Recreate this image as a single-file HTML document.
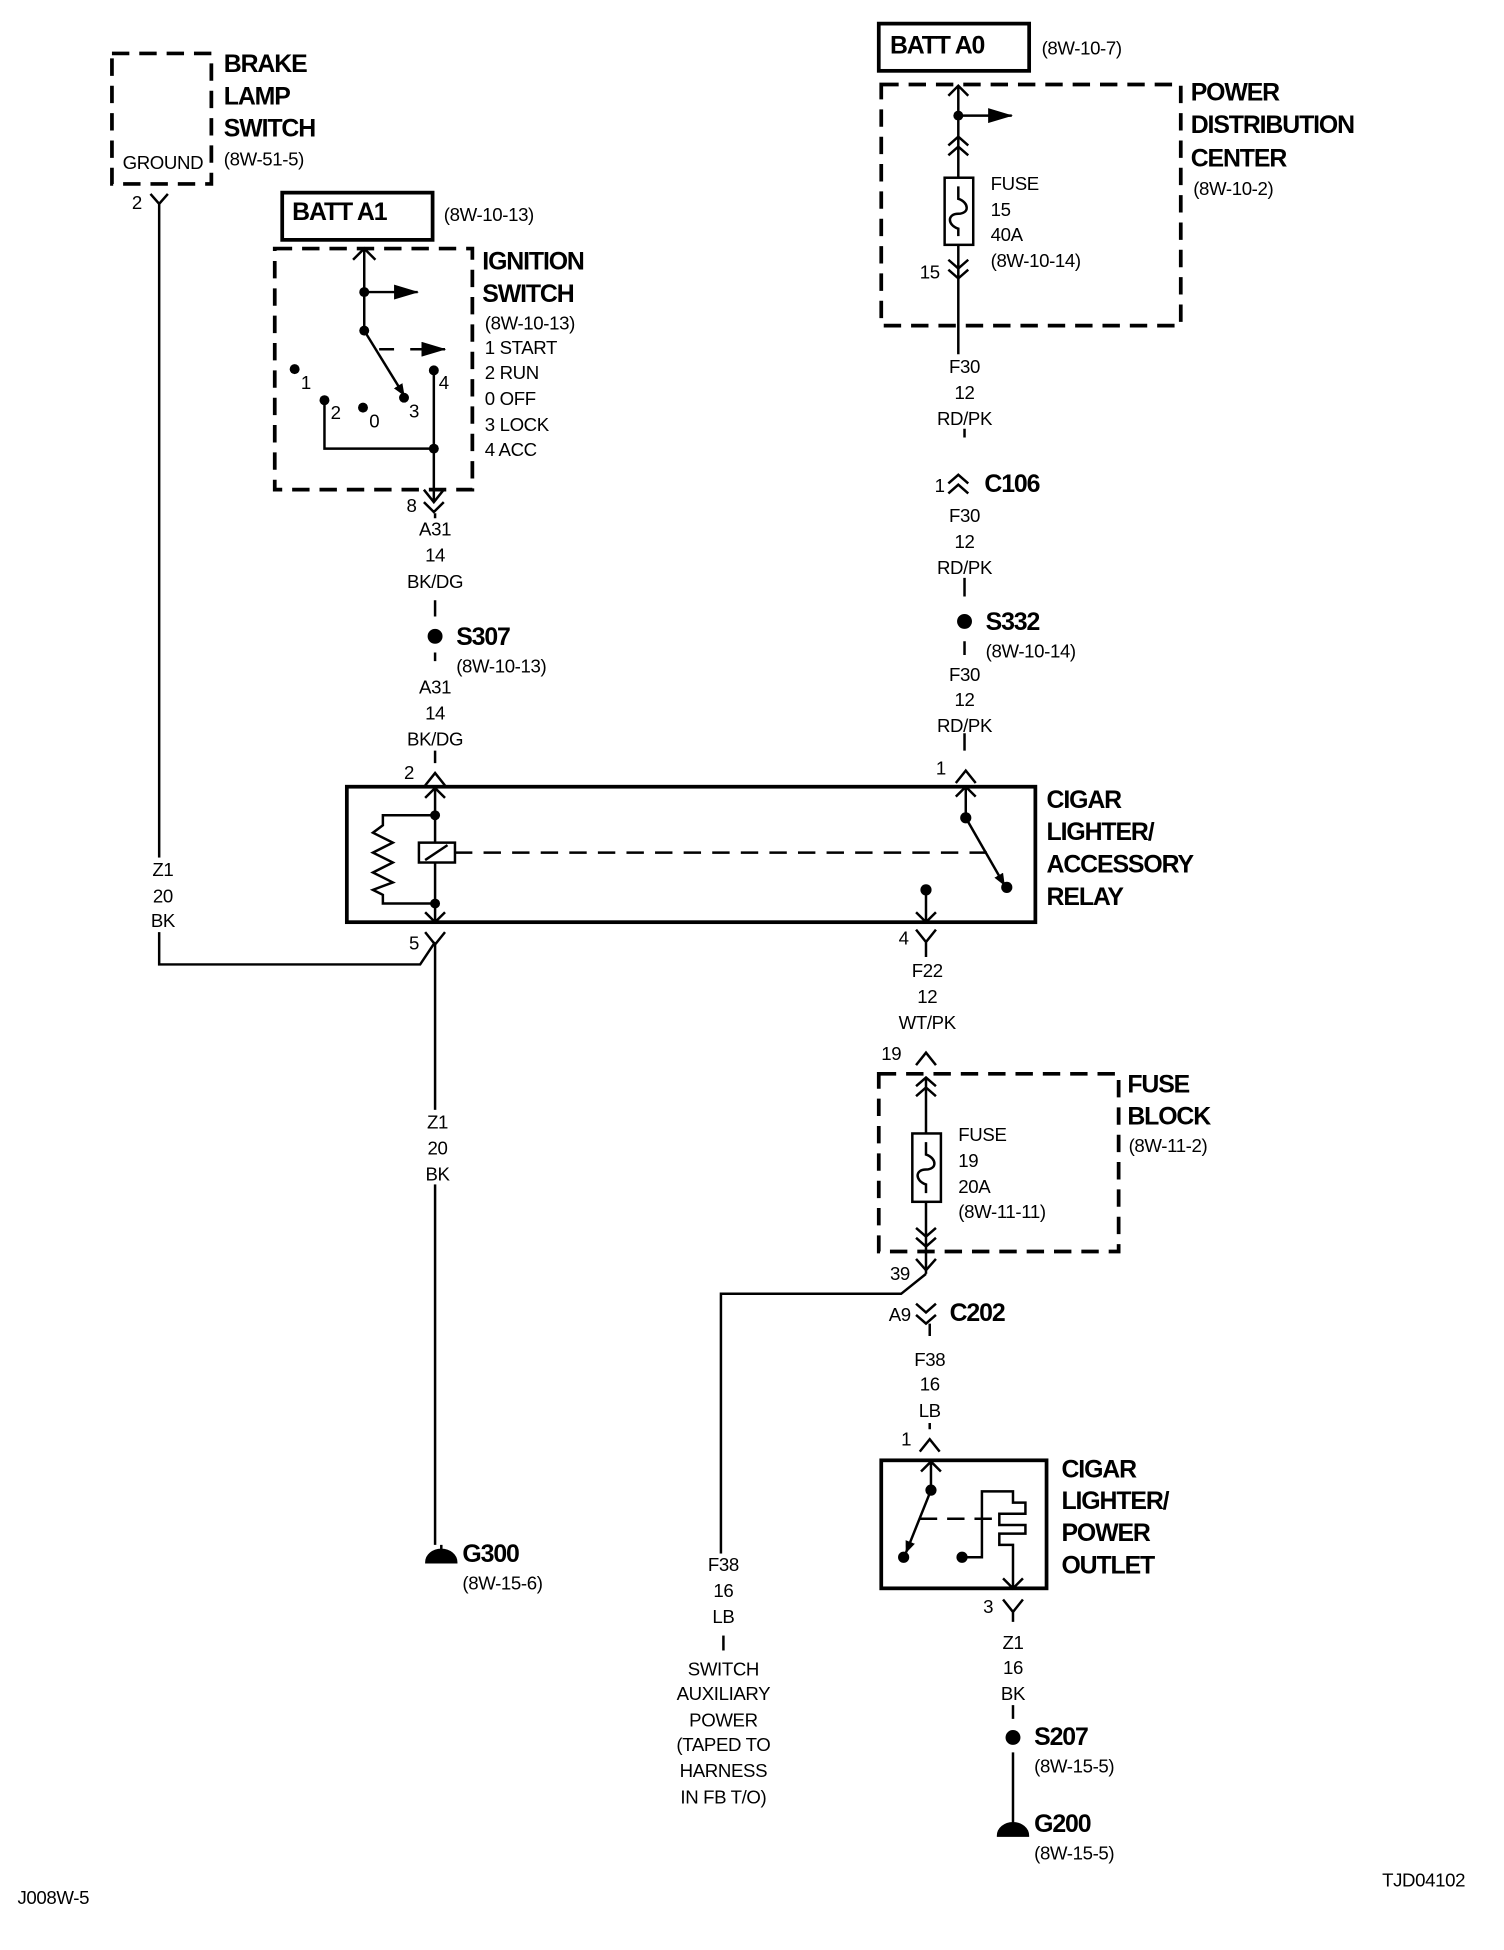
<!DOCTYPE html>
<html><head><meta charset="utf-8"><style>
html,body{margin:0;padding:0;background:#fff;}
svg{display:block;}
text{font-family:"Liberation Sans Narrow","Liberation Sans",sans-serif;fill:#000;}
.b{font-weight:bold;font-size:20px;letter-spacing:-0.9px;}
.r{font-size:15px;letter-spacing:-0.3px;}
.c{text-anchor:middle;}
</style></head><body>
<svg width="1504" height="1950" viewBox="0 0 1210 1569" xmlns="http://www.w3.org/2000/svg">
<defs>
<marker id="ah" markerWidth="10" markerHeight="8" refX="9" refY="4" orient="auto" markerUnits="userSpaceOnUse"><path d="M0,0 L18,4 L0,8z" transform="scale(0.55,1)"/></marker>
<marker id="ab" markerWidth="20" markerHeight="12" refX="19" refY="6" orient="auto" markerUnits="userSpaceOnUse"><path d="M0,0 L20,6 L0,12z"/></marker>
</defs>
<g fill="none" stroke="#000" stroke-width="2">
<rect x="90" y="43" width="80" height="105" stroke-width="3" stroke-dasharray="14,8"/>
<path d="M121,156 L128,164 L135,156 M128,164 V776 H338 L350,758"/>
<rect x="227" y="155" width="121" height="38" stroke-width="3"/>
<rect x="221" y="200" width="159" height="194" stroke-width="3" stroke-dasharray="14,8"/>
<path d="M284,209 L293,200 L302,209 M293,200 V266"/>
<path d="M293,235 H336" marker-end="url(#ab)"/>
<path d="M293,266 L325,318" marker-end="url(#ah)"/>
<path d="M305,281 H322 M330,281 H340" stroke-dasharray="12,6"/>
<path d="M340,281 H358" marker-end="url(#ab)"/>
<path d="M261,322 V361 H349 M349,298 V404 M341,394 L349,404 L357,394 M341,404 L349,412 L357,404"/>
<path d="M350,413 V417 M350,483 V496 M350,525 V532 M350,604 V614"/>
<path d="M342,632 L350,622 L358,632"/>
<rect x="279" y="633" width="554" height="109" stroke-width="3"/>
<path d="M342,642 L350,634 L358,642 M350,634 V678 M350,694 V742 M342,734 L350,742 L358,734"/>
<path d="M350,656 H308 V664 L300,670 L316,678 L300,686 L316,694 L300,702 L316,710 L300,716 L308,720 V727 H350"/>
<rect x="337" y="678" width="29" height="16"/>
<path d="M342,692 L360,680"/>
<path d="M366,686 H797" stroke-dasharray="14,9"/>
<path d="M769,641 L777,633 L785,641 M777,633 V658"/>
<path d="M777,658 L808,712" marker-end="url(#ah)"/>
<path d="M745,716 V742 M737,734 L745,742 L753,734"/>
<path d="M342,750 L350,760 L358,750 M350,760 V1243"/>
<path d="M737,748 L745,758 L753,748 M745,758 V770"/>
<path d="M769,630 L777,620 L785,630"/>
<rect x="707" y="19" width="121" height="38" stroke-width="3"/>
<rect x="709" y="68" width="241" height="194" stroke-width="3" stroke-dasharray="14,8"/>
<path d="M763,77 L771,69 L779,77 M771,69 V143"/>
<path d="M771,93 H814" marker-end="url(#ab)"/>
<path d="M763,117 L771,110 L779,117 M763,125 L771,118 L779,125"/>
<rect x="760" y="143" width="23" height="54"/>
<path d="M771,150 V160 C780,163 780,172 771,172 C762,172 762,181 771,184 V190"/>
<path d="M771,197 V262 M763,209 L771,216 L779,209 M763,217 L771,224 L779,217 M771,262 V285"/>
<path d="M776,345 V352 M763,389 L771,382 L779,389 M763,397 L771,390 L779,397 M776,465 V480 M776,516 V527 M776,590 V604"/>
<path d="M737,857 L745,847 L753,857"/>
<rect x="707" y="864" width="193" height="143" stroke-width="3" stroke-dasharray="14,8"/>
<path d="M737,874 L745,867 L753,874 M737,882 L745,875 L753,882 M745,867 V912"/>
<rect x="734" y="912" width="23" height="55"/>
<path d="M745,919 V929 C754,932 754,941 745,941 C736,941 736,950 745,953 V960"/>
<path d="M745,967 V1025 M737,988 L745,995 L753,988 M737,996 L745,1003 L753,996"/>
<path d="M737,1013 L745,1022 L753,1013 M745,1025 L725,1041 H580 V1318"/>
<path d="M737,1049 L745,1056 L753,1049 M737,1058 L745,1065 L753,1058 M748,1065 V1075"/>
<path d="M740,1168 L748,1158 L756,1168 M748,1145 V1150"/>
<rect x="709" y="1175" width="133" height="103" stroke-width="3"/>
<path d="M741,1184 L749,1176 L757,1184 M749,1176 V1199"/>
<path d="M749,1199 L729,1249" marker-end="url(#ah)"/>
<path d="M740,1222 H804" stroke-dasharray="14,8"/>
<path d="M774,1253 H790 V1200 H815 V1209 H825 V1218 H804 V1227 H825 V1234 H804 V1243 H815 V1278 M807,1270 L815,1278 L823,1270"/>
<path d="M807,1287 L815,1297 L823,1287 M815,1297 V1305 M815,1372 V1383 M815,1410 V1460"/>
</g>
<g fill="#fff">
<rect x="118" y="690" width="22" height="60"/>
<rect x="340" y="893" width="22" height="60"/>
</g>
<g fill="#000">
<circle cx="293" cy="235" r="4"/><circle cx="293" cy="266" r="4"/>
<circle cx="237" cy="297" r="4"/><circle cx="261" cy="322" r="4"/><circle cx="292" cy="328" r="4"/>
<circle cx="325" cy="320" r="4"/><circle cx="349" cy="298" r="4"/><circle cx="349" cy="361" r="4"/>
<circle cx="350" cy="512" r="6"/><circle cx="776" cy="500" r="6"/><circle cx="815" cy="1398" r="6"/>
<circle cx="350" cy="656" r="4"/><circle cx="350" cy="727" r="4"/>
<circle cx="777" cy="658" r="4.5"/><circle cx="810" cy="714" r="4.5"/><circle cx="745" cy="716" r="4.5"/>
<circle cx="771" cy="93" r="4"/>
<circle cx="749" cy="1199" r="4.5"/><circle cx="727" cy="1253" r="4.5"/><circle cx="774" cy="1253" r="4.5"/>
<path d="M343,1257 A12,10 0 0 1 367,1257 Z M355,1243 V1250" stroke="#000" stroke-width="2"/>
<path d="M803,1477 A12,10 0 0 1 827,1477 Z M815,1460 V1470" stroke="#000" stroke-width="2"/>
</g>
<text class="b" x="180" y="58">BRAKE</text><text class="b" x="180" y="84">LAMP</text><text class="b" x="180" y="110">SWITCH</text>
<text class="r" x="180" y="133">(8W-51-5)</text>
<text class="r c" x="131" y="136">GROUND</text>
<text class="r" x="106" y="168">2</text>
<text class="b" x="235" y="177">BATT A1</text><text class="r" x="357" y="178">(8W-10-13)</text>
<text class="b" x="388" y="217">IGNITION</text><text class="b" x="388" y="243">SWITCH</text>
<text class="r" x="390" y="265">(8W-10-13)</text><text class="r" x="390" y="285">1 START</text><text class="r" x="390" y="305">2 RUN</text>
<text class="r" x="390" y="326">0 OFF</text><text class="r" x="390" y="347">3 LOCK</text><text class="r" x="390" y="367">4 ACC</text>
<text class="r" x="242" y="313">1</text><text class="r" x="266" y="337">2</text><text class="r" x="297" y="344">0</text><text class="r" x="329" y="336">3</text><text class="r" x="353" y="313">4</text>
<text class="r" x="327" y="412">8</text>
<text class="r c" x="350" y="431">A31</text><text class="r c" x="350" y="452">14</text><text class="r c" x="350" y="473">BK/DG</text>
<text class="b" x="367" y="519">S307</text><text class="r" x="367" y="541">(8W-10-13)</text>
<text class="r c" x="350" y="558">A31</text><text class="r c" x="350" y="579">14</text><text class="r c" x="350" y="600">BK/DG</text>
<text class="r" x="325" y="627">2</text>
<text class="b" x="842" y="650">CIGAR</text><text class="b" x="842" y="676">LIGHTER/</text><text class="b" x="842" y="702">ACCESSORY</text><text class="b" x="842" y="728">RELAY</text>
<text class="r c" x="131" y="705">Z1</text><text class="r c" x="131" y="726">20</text><text class="r c" x="131" y="746">BK</text>
<text class="r" x="329" y="764">5</text><text class="r" x="723" y="760">4</text>
<text class="r c" x="352" y="908">Z1</text><text class="r c" x="352" y="929">20</text><text class="r c" x="352" y="950">BK</text>
<text class="b" x="372" y="1257">G300</text><text class="r" x="372" y="1279">(8W-15-6)</text>
<text class="b" x="716" y="43">BATT A0</text><text class="r" x="838" y="44">(8W-10-7)</text>
<text class="b" x="958" y="81">POWER</text><text class="b" x="958" y="107">DISTRIBUTION</text><text class="b" x="958" y="134">CENTER</text><text class="r" x="960" y="157">(8W-10-2)</text>
<text class="r" x="797" y="153">FUSE</text><text class="r" x="797" y="174">15</text><text class="r" x="797" y="194">40A</text><text class="r" x="797" y="215">(8W-10-14)</text>
<text class="r" x="740" y="224">15</text>
<text class="r c" x="776" y="300">F30</text><text class="r c" x="776" y="321">12</text><text class="r c" x="776" y="342">RD/PK</text>
<text class="r" x="752" y="396">1</text><text class="b" x="792" y="396">C106</text>
<text class="r c" x="776" y="420">F30</text><text class="r c" x="776" y="441">12</text><text class="r c" x="776" y="462">RD/PK</text>
<text class="b" x="793" y="507">S332</text><text class="r" x="793" y="529">(8W-10-14)</text>
<text class="r c" x="776" y="548">F30</text><text class="r c" x="776" y="568">12</text><text class="r c" x="776" y="589">RD/PK</text>
<text class="r" x="753" y="623">1</text>
<text class="r c" x="746" y="786">F22</text><text class="r c" x="746" y="807">12</text><text class="r c" x="746" y="828">WT/PK</text>
<text class="r" x="709" y="853">19</text>
<text class="b" x="907" y="879">FUSE</text><text class="b" x="907" y="905">BLOCK</text><text class="r" x="908" y="927">(8W-11-2)</text>
<text class="r" x="771" y="918">FUSE</text><text class="r" x="771" y="939">19</text><text class="r" x="771" y="960">20A</text><text class="r" x="771" y="980">(8W-11-11)</text>
<text class="r" x="716" y="1030">39</text>
<text class="r" x="715" y="1063">A9</text><text class="b" x="764" y="1063">C202</text>
<text class="r c" x="748" y="1099">F38</text><text class="r c" x="748" y="1119">16</text><text class="r c" x="748" y="1140">LB</text>
<text class="r" x="725" y="1163">1</text>
<text class="b" x="854" y="1189">CIGAR</text><text class="b" x="854" y="1214">LIGHTER/</text><text class="b" x="854" y="1240">POWER</text><text class="b" x="854" y="1266">OUTLET</text>
<text class="r" x="791" y="1298">3</text>
<text class="r c" x="815" y="1327">Z1</text><text class="r c" x="815" y="1347">16</text><text class="r c" x="815" y="1368">BK</text>
<text class="b" x="832" y="1404">S207</text><text class="r" x="832" y="1426">(8W-15-5)</text>
<text class="b" x="832" y="1474">G200</text><text class="r" x="832" y="1496">(8W-15-5)</text>
<rect x="560" y="1250" width="44" height="212" fill="#fff"/>
<path d="M582,1316 V1328" stroke="#000" stroke-width="2"/>
<text class="r c" x="582" y="1264">F38</text><text class="r c" x="582" y="1285">16</text><text class="r c" x="582" y="1306">LB</text>
<text class="r c" x="582" y="1348">SWITCH</text><text class="r c" x="582" y="1368">AUXILIARY</text><text class="r c" x="582" y="1389">POWER</text>
<text class="r c" x="582" y="1409">(TAPED TO</text><text class="r c" x="582" y="1430">HARNESS</text><text class="r c" x="582" y="1451">IN FB T/O)</text>
<text class="r" x="14" y="1532">J008W-5</text><text class="r" x="1112" y="1518">TJD04102</text>
</svg>
</body></html>
